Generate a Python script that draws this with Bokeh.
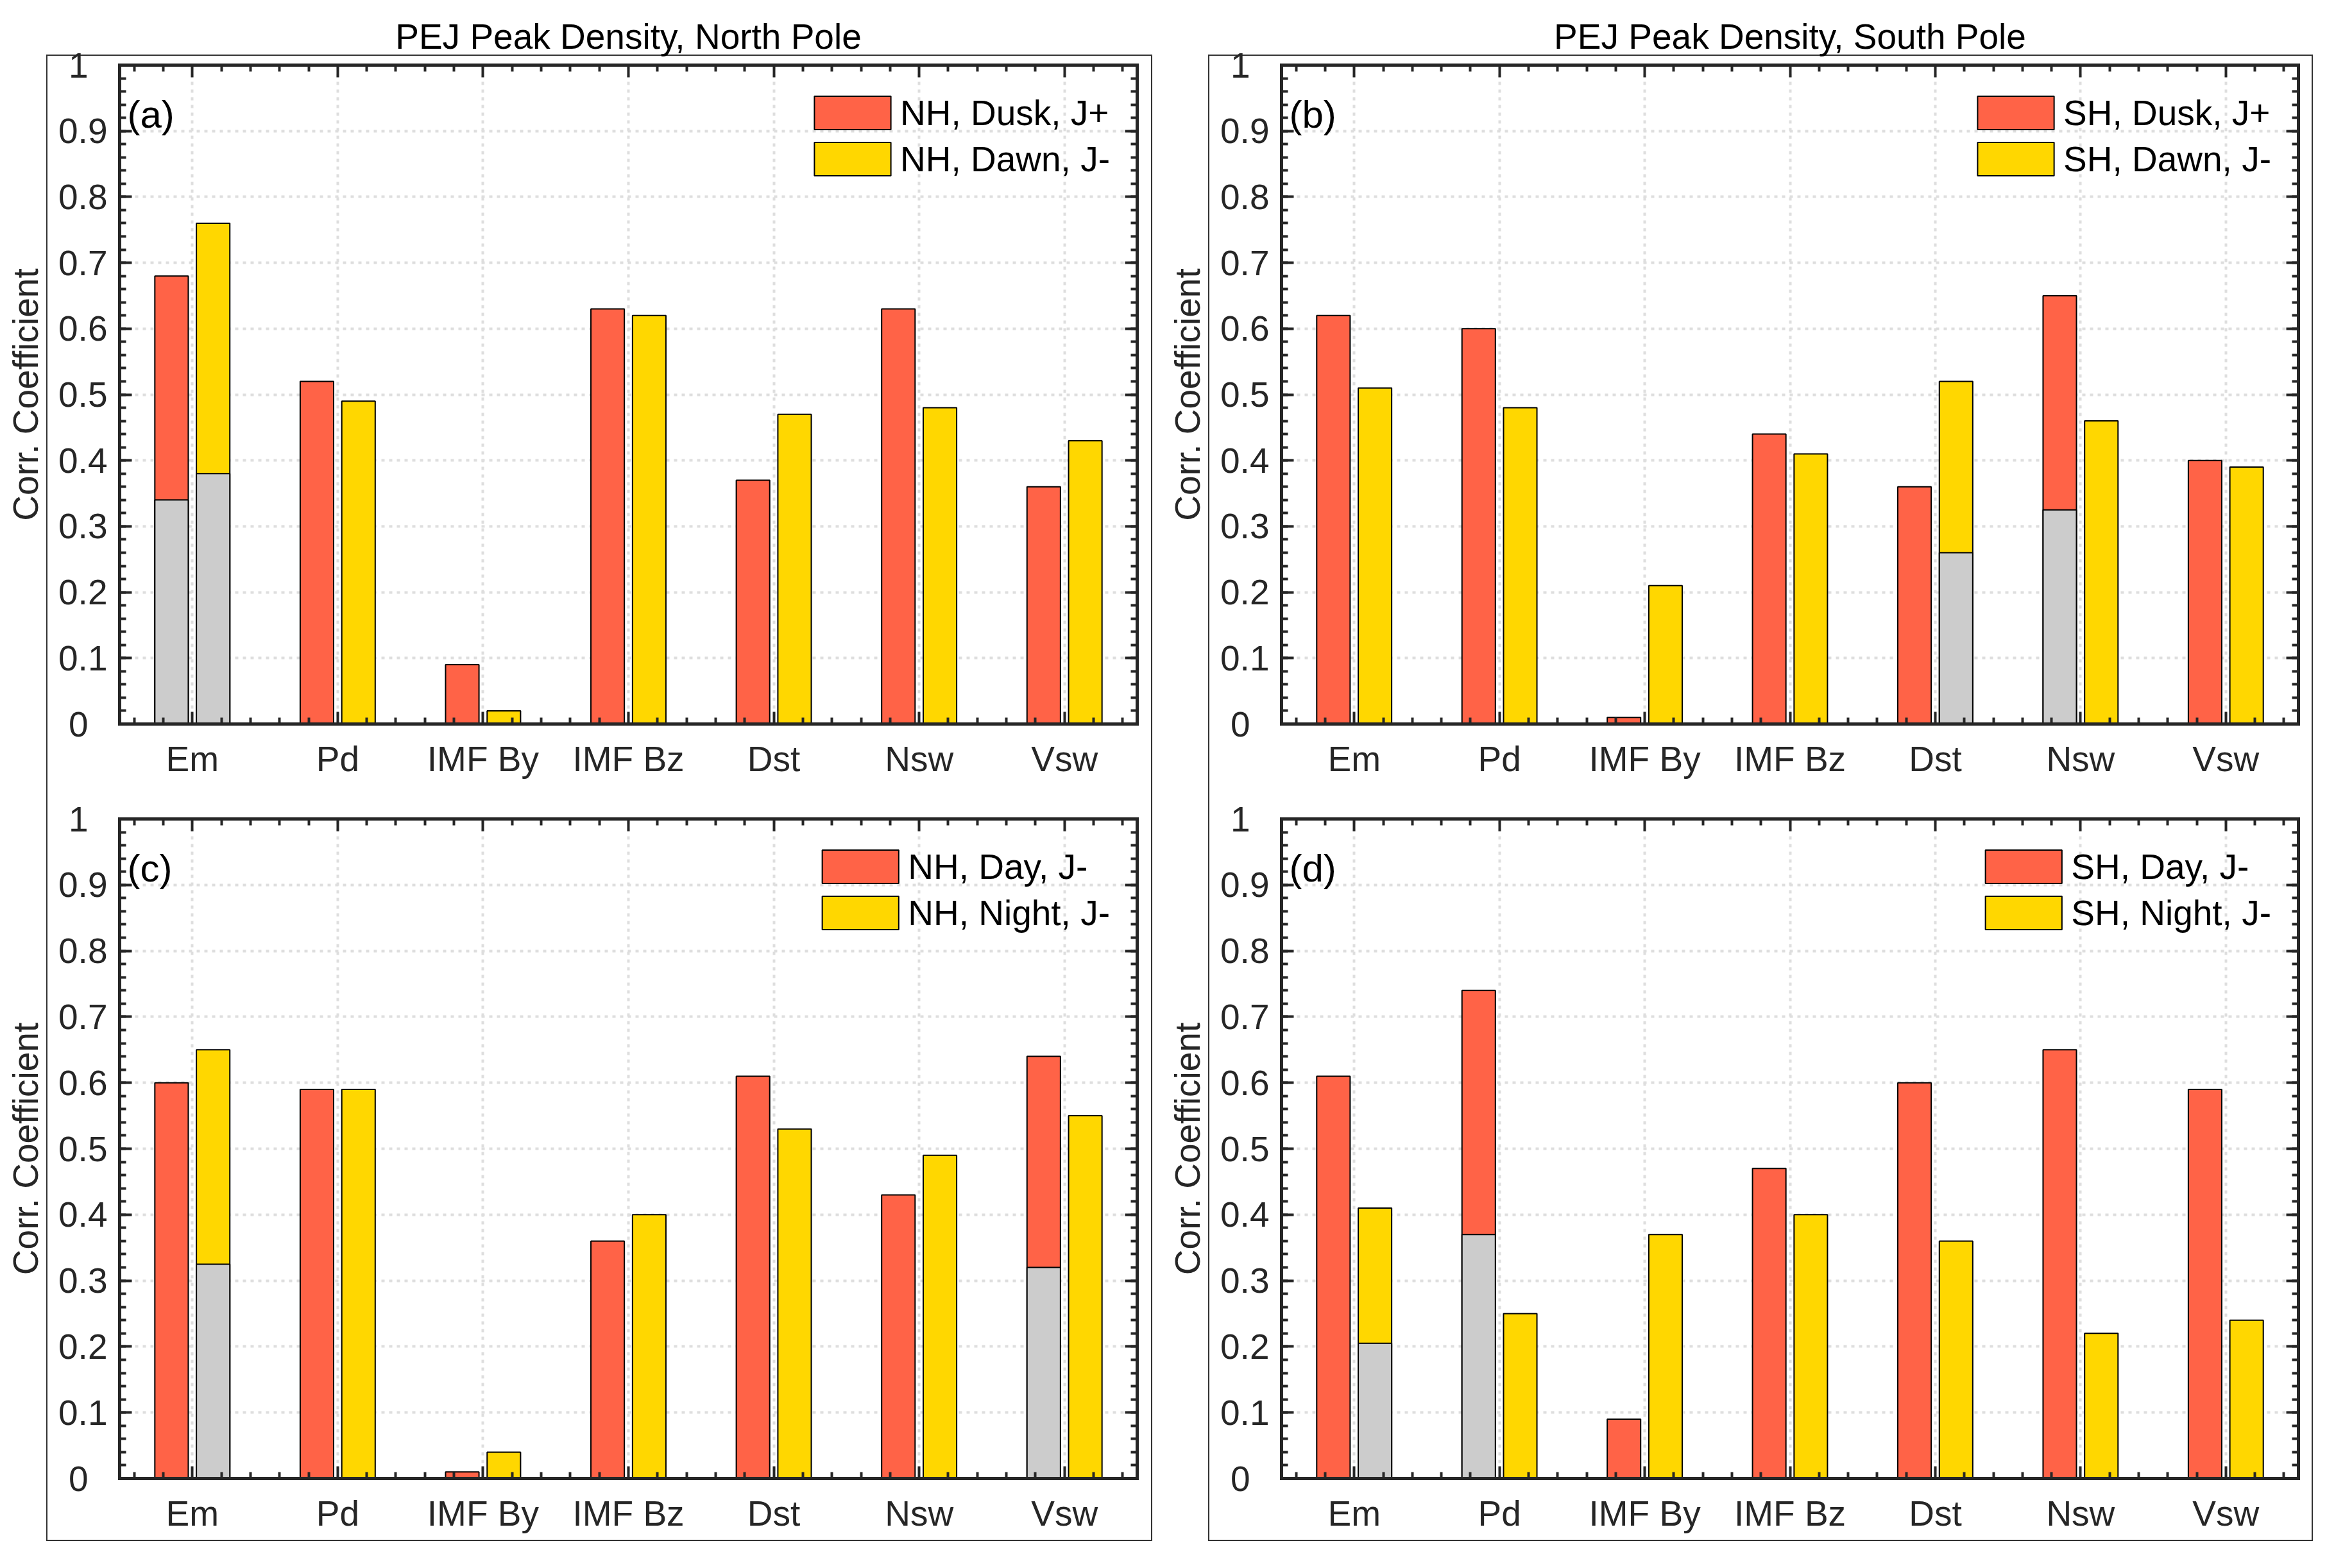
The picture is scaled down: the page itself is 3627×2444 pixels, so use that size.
import numpy as np
from bokeh.plotting import figure
from bokeh.models import (FixedTicker, LinearAxis, Range1d, Legend, LegendItem, Label,
                          CustomJSTickFormatter, CustomLabelingPolicy, Grid)
from bokeh.layouts import row, column
from bokeh.embed import file_html
from bokeh.resources import INLINE

# ---------------- data ----------------
categories = ["Em", "Pd", "IMF By", "IMF Bz", "Dst", "Nsw", "Vsw"]

y_ticks = [0.0, 0.1, 0.2, 0.3, 0.4, 0.5, 0.6, 0.7, 0.8, 0.9, 1.0]
y_tick_labels = ["0", "0.1", "0.2", "0.3", "0.4", "0.5", "0.6", "0.7", "0.8", "0.9", "1"]

titles = ["PEJ Peak Density, North Pole", "PEJ Peak Density, South Pole"]
y_label = "Corr. Coefficient"

# (a) North pole, dusk / dawn
a_names = ["NH, Dusk, J+", "NH, Dawn, J-"]
a_dusk = [0.68, 0.52, 0.09, 0.63, 0.37, 0.63, 0.36]
a_dawn = [0.76, 0.49, 0.02, 0.62, 0.47, 0.48, 0.43]
a_dusk_gray = [0.34, 0, 0, 0, 0, 0, 0]
a_dawn_gray = [0.38, 0, 0, 0, 0, 0, 0]

# (b) South pole, dusk / dawn
b_names = ["SH, Dusk, J+", "SH, Dawn, J-"]
b_dusk = [0.62, 0.60, 0.01, 0.44, 0.36, 0.65, 0.40]
b_dawn = [0.51, 0.48, 0.21, 0.41, 0.52, 0.46, 0.39]
b_dusk_gray = [0, 0, 0, 0, 0, 0.325, 0]
b_dawn_gray = [0, 0, 0, 0, 0.26, 0, 0]

# (c) North pole, day / night
c_names = ["NH, Day, J-", "NH, Night, J-"]
c_day = [0.60, 0.59, 0.01, 0.36, 0.61, 0.43, 0.64]
c_night = [0.65, 0.59, 0.04, 0.40, 0.53, 0.49, 0.55]
c_day_gray = [0, 0, 0, 0, 0, 0, 0.32]
c_night_gray = [0.325, 0, 0, 0, 0, 0, 0]

# (d) South pole, day / night
d_names = ["SH, Day, J-", "SH, Night, J-"]
d_day = [0.61, 0.74, 0.09, 0.47, 0.60, 0.65, 0.59]
d_night = [0.41, 0.25, 0.37, 0.40, 0.36, 0.22, 0.24]
d_day_gray = [0, 0.37, 0, 0, 0, 0, 0]
d_night_gray = [0.205, 0, 0, 0, 0, 0, 0]

# ---------------- style ----------------
FONT = "Liberation Sans"
AX = "#262626"
BOXC = "#333333"
RED = "#FF6347"
YEL = "#FFD700"
GRY = "#CCCCCC"
FS = "55px"
TAG_FS = "60px"
BAR_W = 0.23
OFF = 0.143

x_pos = [float(i + 1) for i in range(len(categories))]
x_minor = [round(c + d, 2) for c in x_pos for d in (-0.4, -0.2, 0.2, 0.4)
           if 0.5 < c + d < len(categories) + 0.5]
y_minor = [round(i * 0.02, 2) for i in range(51)]

fmt_js = ("for (let i = 0; i < tv.length; i++) {"
          " if (Math.abs(tv[i] - tick) < 1e-6) return lv[i]; } return '';")


def style_axis(ax, show):
    ax.axis_line_width = 5
    ax.axis_line_color = AX
    ax.axis_line_cap = "square"
    ax.major_tick_in = 19
    ax.major_tick_out = 0
    ax.minor_tick_in = 10
    ax.minor_tick_out = 0
    ax.major_tick_line_width = 4
    ax.minor_tick_line_width = 4
    ax.major_tick_line_color = AX
    ax.minor_tick_line_color = AX
    ax.major_label_text_font = FONT
    ax.major_label_text_color = AX
    if show:
        ax.major_label_text_font_size = FS
    else:
        ax.major_label_text_font_size = "1px"
        ax.major_label_standoff = 0
        ax.major_label_policy = CustomLabelingPolicy(code="return [];")


def box_css(segs):
    # segs: list of (x, y, w, h) in canvas pixels -> CSS background lines
    imgs = ", ".join([f"linear-gradient({BOXC}, {BOXC})"] * len(segs))
    pos = ", ".join(f"{x}px {y}px" for x, y, w, h in segs)
    size = ", ".join(f"{w}px {h}px" for x, y, w, h in segs)
    return {"background-image": imgs, "background-position": pos,
            "background-size": size, "background-repeat": "no-repeat"}


def panel(title, s1, s2, g1, g2, names, tag, W, H, ml, mr, mt, mb, segs):
    kw = {}
    if title is not None:
        kw["title"] = title
    p = figure(width=W, height=H, x_range=Range1d(0.5, len(categories) + 0.5),
               y_range=Range1d(0, 1), x_axis_type=None, y_axis_type=None,
               output_backend="svg", toolbar_location=None,
               min_border_left=ml, min_border_right=mr,
               min_border_top=mt, min_border_bottom=mb, **kw)
    p.outline_line_color = None
    p.background_fill_color = None
    p.border_fill_color = None
    p.styles = box_css(segs)
    if title is not None:
        p.title.text_font = FONT
        p.title.text_font_size = FS
        p.title.text_font_style = "normal"
        p.title.text_color = "black"
        p.title.align = "center"
        p.title.standoff = 19

    xt = FixedTicker(ticks=x_pos, minor_ticks=x_minor)
    yt = FixedTicker(ticks=y_ticks, minor_ticks=y_minor)
    yt_inner = FixedTicker(ticks=y_ticks[1:-1], minor_ticks=y_minor)
    yt_ends = FixedTicker(ticks=[y_ticks[0], y_ticks[-1]])
    xfmt = CustomJSTickFormatter(args=dict(tv=x_pos, lv=categories), code=fmt_js)
    yfmt = CustomJSTickFormatter(args=dict(tv=y_ticks, lv=y_tick_labels), code=fmt_js)

    bx = LinearAxis(ticker=xt, formatter=xfmt)
    style_axis(bx, True)
    bx.major_label_standoff = 23
    p.add_layout(bx, "below")
    tx = LinearAxis(ticker=xt, formatter=xfmt)
    style_axis(tx, False)
    p.add_layout(tx, "above")

    # inner left axis: frame line, ticks and labels 0.1 .. 0.9
    ly = LinearAxis(ticker=yt_inner, formatter=yfmt)
    style_axis(ly, True)
    ly.major_label_standoff = 19
    p.add_layout(ly, "left")
    # outer left axis: only the "0" and "1" labels (centred under the others) + title
    ly2 = LinearAxis(ticker=yt_ends, formatter=yfmt)
    style_axis(ly2, True)
    ly2.axis_line_color = None
    ly2.major_tick_line_color = None
    ly2.minor_tick_line_color = None
    ly2.major_label_standoff = -49
    ly2.axis_label = y_label
    ly2.axis_label_text_font = FONT
    ly2.axis_label_text_font_size = FS
    ly2.axis_label_text_font_style = "normal"
    ly2.axis_label_text_color = AX
    ly2.axis_label_standoff = 33
    p.add_layout(ly2, "left")

    ry = LinearAxis(ticker=yt, formatter=yfmt)
    style_axis(ry, False)
    p.add_layout(ry, "right")

    for dim, tk in ((0, xt), (1, yt)):
        g = Grid(dimension=dim, ticker=tk, grid_line_color="#dedede",
                 grid_line_width=4, grid_line_dash="5 7")
        p.add_layout(g)

    xa = np.array(x_pos)
    x1 = xa - OFF
    x2 = xa + OFF
    r1 = p.vbar(x=x1, width=BAR_W, bottom=0, top=s1, fill_color=RED,
                line_color="black", line_width=2)
    r2 = p.vbar(x=x2, width=BAR_W, bottom=0, top=s2, fill_color=YEL,
                line_color="black", line_width=2)
    for xx, gg in ((x1, g1), (x2, g2)):
        ga = np.array(gg, dtype=float)
        m = ga > 0
        if m.any():
            p.vbar(x=xx[m], width=BAR_W, bottom=0, top=ga[m], fill_color=GRY,
                   line_color="black", line_width=2)

    leg = Legend(items=[LegendItem(label=names[0], renderers=[r1]),
                        LegendItem(label=names[1], renderers=[r2])],
                 location="top_right", margin=42, padding=0, spacing=7,
                 glyph_width=149, glyph_height=65, label_height=65,
                 label_standoff=-7, label_text_font=FONT, label_text_font_size=FS,
                 label_text_color="black", background_fill_alpha=0,
                 border_line_alpha=0)
    p.add_layout(leg)

    p.add_layout(Label(x=0.553, y=0.925, text=tag, text_font=FONT,
                       text_font_size=TAG_FS, text_baseline="middle", text_color="black"))
    return p


# box line segments (x, y, w, h) in canvas px of each figure
seg_a = [(72, 85, 2, 1155), (1794, 85, 2, 1155), (72, 85, 1724, 2)]
seg_c = [(72, 0, 2, 1162), (1794, 0, 2, 1162), (72, 1160, 1724, 2)]
seg_b = [(68, 85, 2, 1155), (1788, 85, 2, 1155), (68, 85, 1722, 2)]
seg_d = [(68, 0, 2, 1162), (1788, 0, 2, 1162), (68, 1160, 1722, 2)]

pa = panel(titles[0], a_dusk, a_dawn, a_dusk_gray, a_dawn_gray, a_names, "(a)",
           1815, 1240, 186, 43, 101, 112, seg_a)
pb = panel(titles[1], b_dusk, b_dawn, b_dusk_gray, b_dawn_gray, b_names, "(b)",
           1800, 1240, 182, 33, 101, 112, seg_b)
pc = panel(None, c_day, c_night, c_day_gray, c_night_gray, c_names, "(c)",
           1815, 1190, 186, 43, 36, 126, seg_c)
pd_ = panel(None, d_day, d_night, d_day_gray, d_night_gray, d_names, "(d)",
            1800, 1190, 182, 33, 36, 126, seg_d)

layout = column(row(pa, pb), row(pc, pd_))

with open("out.html", "w") as f:
    f.write(file_html(layout, INLINE))
